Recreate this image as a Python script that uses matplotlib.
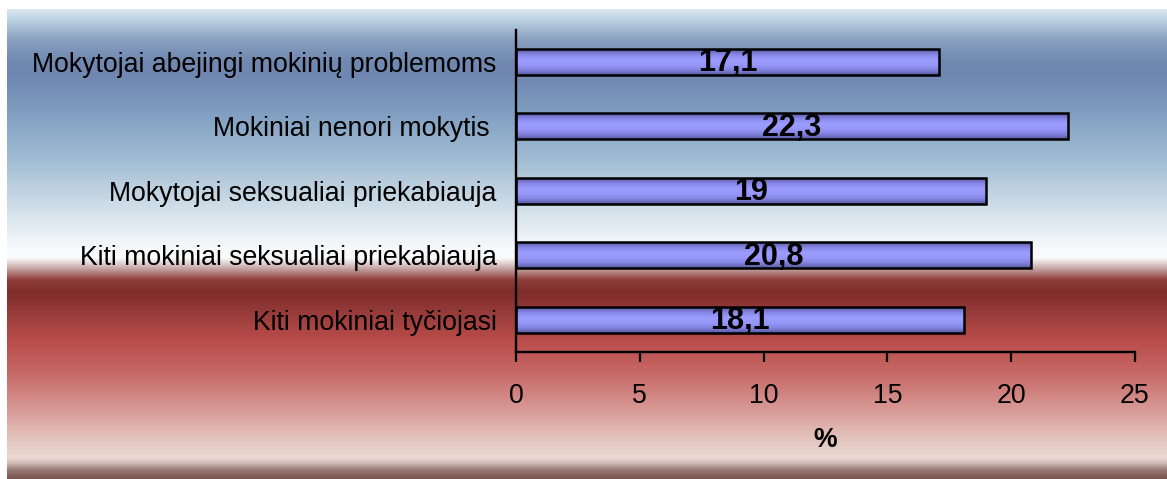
import numpy as np
import matplotlib
matplotlib.use("Agg")
import matplotlib.pyplot as plt
from matplotlib.colors import to_rgb

plt.rcParams['font.family'] = ['Liberation Sans', 'DejaVu Sans']

categories = [
    "Mokytojai abejingi mokinių problemoms",
    "Mokiniai nenori mokytis ",
    "Mokytojai seksualiai priekabiauja",
    "Kiti mokiniai seksualiai priekabiauja",
    "Kiti mokiniai tyčiojasi",
]
values = [17.1, 22.3, 19, 20.8, 18.1]
value_labels = ["17,1", "22,3", "19", "20,8", "18,1"]
xticks = [0, 5, 10, 15, 20, 25]
xlabel = "%"

W, H = 1167, 479
fig = plt.figure(figsize=(W / 100, H / 100), dpi=100)
fig.patch.set_facecolor("white")

# background gradient (pixel y positions, colours)
stops = [
    (9, "#dce9f3"), (22, "#b4cbdd"), (40, "#889fbf"), (62, "#7087b0"),
    (78, "#7189b2"), (110, "#7e9dc0"), (160, "#a2bdd3"), (210, "#d3e0ea"),
    (248, "#f6f9fb"), (258, "#fbfbfb"), (268, "#c8aaa8"), (280, "#8e3c3a"),
    (292, "#7f2c2b"), (310, "#933a38"), (340, "#b94c4a"), (375, "#c76a68"),
    (410, "#d89a96"), (440, "#e4c5bf"), (458, "#ead9d3"), (464, "#cdb7b1"),
    (470, "#9a7b76"), (479, "#7a5550"),
]
ys = np.arange(9, 480)
sy = [s[0] for s in stops]
cols = np.array([to_rgb(s[1]) for s in stops])
grad = np.stack([np.interp(ys, sy, cols[:, k]) for k in range(3)], axis=-1)[:, None, :]
bg = fig.add_axes([7 / W, 0, 1 - 7 / W, (479 - 9) / H])
bg.imshow(grad, aspect="auto", interpolation="bilinear", extent=[0, 1, 0, 1])
bg.set_axis_off()

ax = fig.add_axes([516 / W, (H - 352) / H, (1135 - 516) / W, (352 - 29.5) / H])
ax.set_facecolor("none")

n = len(categories)
ypos = np.arange(n)[::-1]
bh = 0.40
bar_stops = np.array([to_rgb(c) for c in ["#5a5aa0", "#8686e6", "#9c9cff", "#9898fa", "#8484e2", "#5a5aa0"]])
t = np.linspace(0, 1, 64)
tp = np.linspace(0, 1, len(bar_stops))
bgrad = np.stack([np.interp(t, tp, bar_stops[:, k]) for k in range(3)], axis=-1)[:, None, :]

bars = ax.barh(ypos, values, height=bh, color="none", edgecolor="black", linewidth=1.8, zorder=3)
for b in bars:
    x0, y0 = b.get_x(), b.get_y()
    w, h = b.get_width(), b.get_height()
    ax.imshow(bgrad, aspect="auto", interpolation="bilinear",
              extent=[x0, x0 + w, y0, y0 + h], zorder=2)
for yp, v, lab in zip(ypos, values, value_labels):
    ax.text(v / 2, yp - 0.02, lab, ha="center", va="center", fontsize=22,
            fontweight="bold", zorder=4)

ax.set_xlim(0, 25)
ax.set_ylim(-0.5, n - 0.5)
ax.set_xticks(xticks)
ax.set_xticklabels([str(x) for x in xticks])
ax.set_yticks(ypos)
ax.set_yticklabels(categories)
ax.tick_params(axis="x", length=7, width=1.6, direction="out", pad=15, labelsize=19.2)
ax.tick_params(axis="y", length=0, pad=14, labelsize=19.2)
for s in ["top", "right"]:
    ax.spines[s].set_visible(False)
for s in ["left", "bottom"]:
    ax.spines[s].set_linewidth(1.7)
ax.set_xlabel(xlabel, fontsize=19.2, fontweight="bold", labelpad=13)

fig.savefig("out.png", dpi=100)
